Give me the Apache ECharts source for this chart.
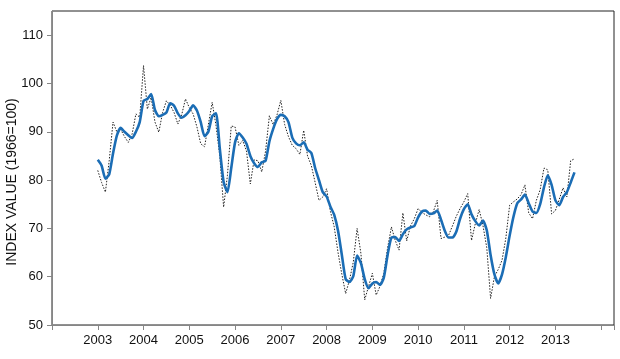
<!DOCTYPE html>
<html><head><meta charset="utf-8">
<script src="https://cdn.jsdelivr.net/npm/echarts@6/dist/echarts.min.js"></script>
<style>html,body{margin:0;padding:0;background:#fff}#c{width:620px;height:359px}</style>
</head><body><div id="c"></div>
<script>
// Monthly series starting January 2003
const startYear = 2003;
const yearTicks = [2003,2004,2005,2006,2007,2008,2009,2010,2011,2012,2013];
const yTicks = [50,60,70,80,90,100,110];
const smoothed = [84.2,83.0,80.3,81.2,85.5,89.2,90.8,90.0,89.3,88.7,90.0,92.0,
 96.4,96.8,97.8,94.5,93.2,93.5,94.0,95.9,95.4,93.8,92.9,93.4,
 94.3,95.5,94.4,92.0,89.1,90.0,93.2,93.8,86.5,79.6,77.5,82.5,
 87.8,89.7,88.8,87.5,85.0,83.5,82.7,83.7,84.0,88.0,90.6,92.6,
 93.5,93.2,92.0,88.8,87.6,87.2,87.8,86.3,85.6,82.5,80.0,77.5,
 76.6,74.5,72.8,69.5,64.5,59.5,58.9,60.1,64.4,62.8,59.5,57.6,
 58.6,58.9,58.3,59.8,64.5,68.1,68.2,67.4,68.8,69.8,70.2,70.5,
 72.3,73.5,73.7,73.0,73.1,73.7,71.8,69.5,68.1,68.1,69.3,72.0,
 74.0,75.0,72.9,71.5,70.6,71.6,69.6,64.5,60.5,58.6,60.5,64.1,
 68.5,72.4,75.2,76.0,77.0,75.2,73.5,73.2,75.0,78.5,81.0,79.0,
 75.8,74.8,76.5,77.5,79.5,81.6];
const monthly = [82.0,79.5,77.5,84.0,92.0,90.0,90.5,89.0,87.8,89.5,93.7,93.0,
 103.7,94.7,97.1,92.0,89.9,94.0,96.4,95.5,94.0,91.6,93.5,96.8,
 95.0,93.7,91.0,87.5,86.9,91.5,96.1,91.3,85.0,74.4,81.0,91.2,
 91.0,87.2,88.2,86.0,79.2,84.2,84.0,81.7,86.0,93.3,91.5,93.5,
 96.5,91.5,89.0,87.2,86.5,85.3,90.3,85.0,83.0,79.5,75.8,76.5,
 78.2,73.5,70.3,65.0,60.5,56.5,59.3,63.0,70.0,64.8,55.2,58.0,
 60.7,56.2,58.0,60.7,66.0,70.3,67.5,65.5,73.2,67.4,70.5,72.0,
 74.1,73.3,72.8,72.4,73.5,75.8,67.9,68.2,68.6,70.5,72.5,74.1,
 75.5,77.2,67.5,71.0,73.9,70.6,66.0,55.5,60.0,61.5,63.4,68.0,
 74.8,75.5,76.1,77.0,79.0,73.2,72.0,75.8,78.0,82.5,82.1,73.0,
 73.7,76.0,78.4,76.5,84.0,84.4];

const toPairs = arr => arr.map((v, i) => [startYear + i / 12, v]);
const chart = echarts.init(document.getElementById('c'), null, {renderer: 'canvas'});
const font = '"Liberation Sans", Arial, sans-serif';
chart.setOption({
  animation: false,
  grid: {left: 52, top: 11, right: 6, bottom: 34, containLabel: false, outerBoundsMode: 'none',
         show: true, borderColor: '#222', borderWidth: 1, backgroundColor: 'transparent'},
  xAxis: {
    type: 'value', min: yearTicks[0] - 1, max: 2014.28, interval: 1,
    splitLine: {show: false},
    axisLine: {show: true, onZero: false, lineStyle: {color: '#868686', width: 1}},
    axisTick: {show: true, length: 5, lineStyle: {color: '#868686'}},
    axisLabel: {
      color: '#111', fontSize: 13, fontFamily: font, margin: 9,
      showMinLabel: true, showMaxLabel: true,
      formatter: v => (yearTicks.indexOf(Math.round(v * 1000) / 1000) >= 0 ? String(v) : '')
    }
  },
  yAxis: {
    type: 'value', min: yTicks[0], max: 115, interval: 10,
    name: 'INDEX VALUE (1966=100)', nameLocation: 'middle', nameGap: 33, nameMoveOverlap: false,
    nameTextStyle: {color: '#111', fontSize: 14, fontFamily: font, padding: [0, 28, 0, 0]},
    splitLine: {show: false},
    axisLine: {show: true, lineStyle: {color: '#868686', width: 1}},
    axisTick: {show: true, length: 5, lineStyle: {color: '#868686'}},
    axisLabel: {
      color: '#111', fontSize: 13, fontFamily: font, margin: 9,
      showMaxLabel: false,
      formatter: v => (yTicks.indexOf(v) >= 0 ? String(v) : '')
    }
  },
  series: [
    {type: 'line', data: toPairs(monthly), symbol: 'none', smooth: false,
     lineStyle: {color: '#222', width: 1, type: [1.5, 1.5]}, z: 2},
    {type: 'line', data: toPairs(smoothed), symbol: 'none', smooth: 0.2,
     lineStyle: {color: '#1b6db5', width: 2.6}, z: 3}
  ]
});
</script></body></html>
